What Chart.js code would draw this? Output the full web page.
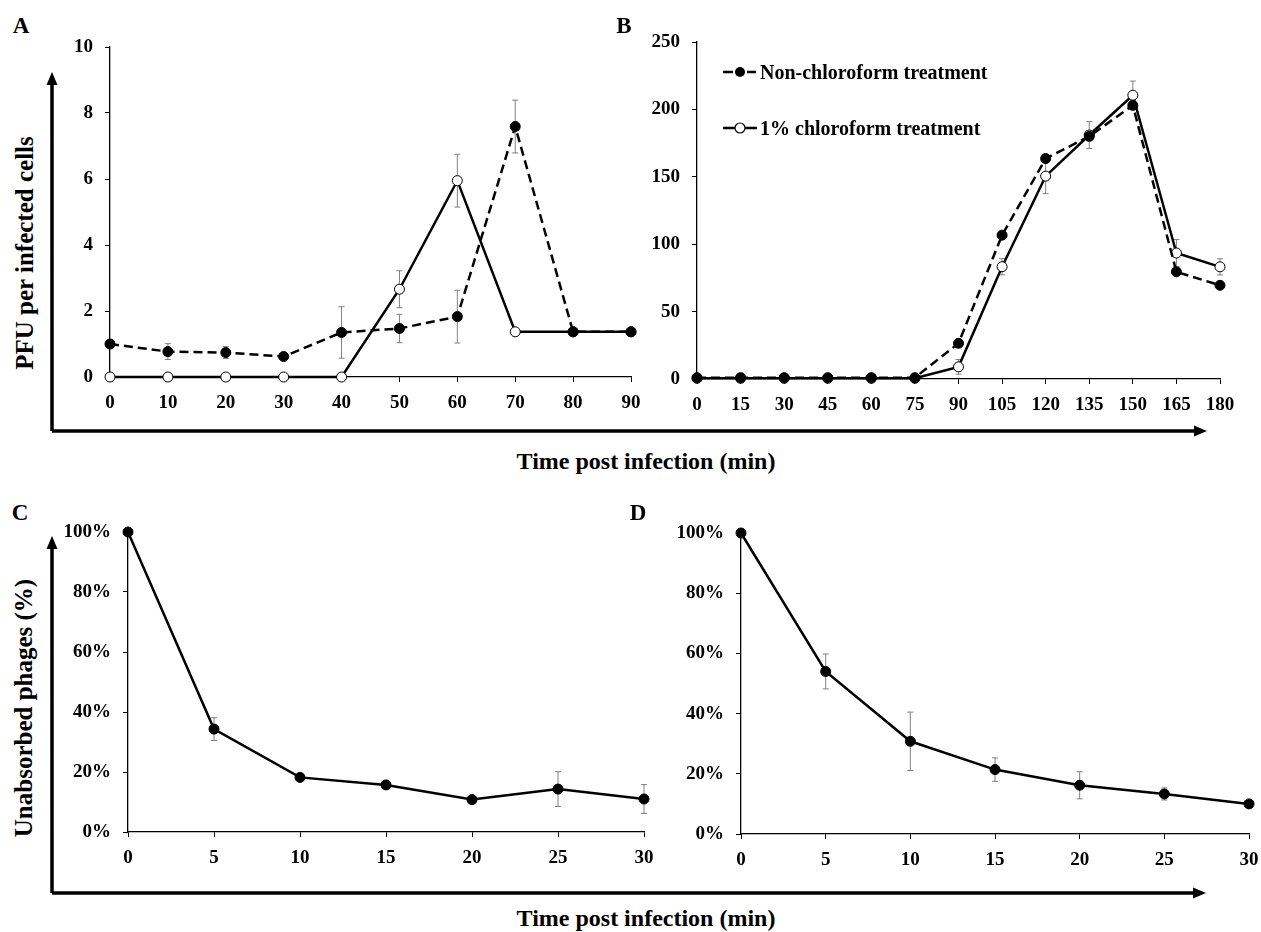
<!DOCTYPE html>
<html>
<head>
<meta charset="utf-8">
<script src="https://cdn.jsdelivr.net/npm/chart.js@4.4.1/dist/chart.umd.min.js"></script>
<style>
  body { margin: 0; background: #fff; width: 1261px; height: 932px; position: relative; overflow: hidden;
         font-family: "Liberation Serif", "Times New Roman", serif; font-weight: bold; color: #000; }
  canvas { position: absolute; }
  .t { position: absolute; white-space: nowrap; line-height: 1; transform: translate(-50%, -50%); }
  .letter { font-size: 23px; }
  .title { font-size: 24px; }
  .ytitle { font-size: 25px; }
  .rot { transform: translate(-50%, -50%) rotate(-90deg); }
  .leg { position: absolute; white-space: nowrap; line-height: 1; font-size: 20px; transform: translateY(-50%); }
</style>
</head>
<body>
<svg width="1261" height="932" style="position:absolute;left:0;top:0">
  <!-- big axis arrows, top row -->
  <path d="M52 431 V82 M52 431 H1196" stroke="#000" stroke-width="3.5" fill="none"/>
  <polygon points="52,72 46.5,85 57.5,85" fill="#000"/>
  <polygon points="1207,431 1194,425.5 1194,436.5" fill="#000"/>
  <!-- bottom row -->
  <path d="M52 893 V546 M52 893 H1195" stroke="#000" stroke-width="3.5" fill="none"/>
  <polygon points="52,536 46.5,549 57.5,549" fill="#000"/>
  <polygon points="1206,893 1193,887.5 1193,898.5" fill="#000"/>
  <!-- legend samples for panel B -->
  <path d="M723 72 H733 M747 72 H756" stroke="#000" stroke-width="2.5"/>
  <circle cx="740" cy="72" r="5" fill="#000"/>
  <line x1="723" y1="128" x2="757" y2="128" stroke="#000" stroke-width="2.5"/>
  <circle cx="740" cy="128" r="5" fill="#fff" stroke="#000" stroke-width="1.2"/>
</svg>

<canvas id="chartA"></canvas>
<canvas id="chartB"></canvas>
<canvas id="chartC"></canvas>
<canvas id="chartD"></canvas>

<div class="t letter" style="left:21px;top:25px">A</div>
<div class="t letter" style="left:624px;top:25px">B</div>
<div class="t letter" style="left:20px;top:512px">C</div>
<div class="t letter" style="left:638px;top:512px">D</div>
<div class="t ytitle rot" style="left:24px;top:253px">PFU per infected cells</div>
<div class="t ytitle rot" style="left:23px;top:708px">Unabsorbed phages (%)</div>
<div class="t title" style="left:646px;top:461px">Time post infection (min)</div>
<div class="t title" style="left:646px;top:918px">Time post infection (min)</div>
<div class="leg" style="left:760px;top:72px">Non-chloroform treatment</div>
<div class="leg" style="left:760px;top:128px">1% chloroform treatment</div>

<script>
// Panel A: one-step growth, 0-90 min
const timeA = [0, 10, 20, 30, 40, 50, 60, 70, 80, 90];
const nonChloroA = [1.0, 0.77, 0.74, 0.62, 1.35, 1.47, 1.83, 7.59, 1.37, 1.37];
const nonChloroAErr = [0, 0.24, 0.18, 0, 0.78, 0.43, 0.8, 0.8, 0, 0];
const chloroA = [0, 0, 0, 0, 0, 2.66, 5.95, 1.37, 1.37, 1.37];
const chloroAErr = [0, 0, 0, 0, 0, 0.56, 0.8, 0, 0, 0];

// Panel B: one-step growth, 0-180 min
const timeB = [0, 15, 30, 45, 60, 75, 90, 105, 120, 135, 150, 165, 180];
const nonChloroB = [1, 1, 1, 1, 1, 1, 26.5, 106.7, 163.5, 180, 203, 79.5, 69.5];
const chloroB = [0.5, 0.5, 0.5, 0.5, 0.5, 0.5, 9, 83.3, 150.5, 181, 210.5, 93.5, 83.2];
const chloroBErr = [0, 0, 0, 0, 0, 0, 5.5, 6, 13, 10, 10.5, 10, 6];

// Panels C and D: adsorption, 0-30 min
const timeCD = [0, 5, 10, 15, 20, 25, 30];
const unabsorbedC = [100, 34.3, 18.2, 15.7, 10.8, 14.3, 11];
const unabsorbedCErr = [0, 3.8, 0, 0, 0, 5.8, 4.8];
const unabsorbedD = [100, 54, 30.8, 21.4, 16.2, 13.3, 10];
const unabsorbedDErr = [0, 5.8, 9.7, 3.9, 4.5, 2, 0];

const pts = (xs, ys) => xs.map((x, i) => ({ x: x, y: ys[i] }));

// gray error bars with small caps, drawn under the lines
const errorBars = {
  id: "errorBars",
  beforeDatasetsDraw(chart) {
    const { ctx, scales } = chart;
    ctx.save();
    ctx.strokeStyle = "#808080";
    ctx.lineWidth = 1;
    chart.data.datasets.forEach((ds) => {
      if (!ds.errors) return;
      ds.data.forEach((p, j) => {
        const e = ds.errors[j];
        if (!e) return;
        const px = scales.x.getPixelForValue(p.x);
        const top = scales.y.getPixelForValue(p.y + e);
        const bot = scales.y.getPixelForValue(p.y - e);
        ctx.beginPath();
        ctx.moveTo(px, top); ctx.lineTo(px, bot);
        ctx.moveTo(px - 3, top); ctx.lineTo(px + 3, top);
        ctx.moveTo(px - 3, bot); ctx.lineTo(px + 3, bot);
        ctx.stroke();
      });
    });
    ctx.restore();
  },
};

const tickFont = { family: "Liberation Serif", weight: "bold", size: 19 };

function filled(data, errors, dashed) {
  return {
    data, errors,
    borderColor: "#000", borderWidth: 2.5, borderDash: dashed ? [9, 5] : [],
    pointRadius: 5, pointBackgroundColor: "#000", pointBorderColor: "#000", pointBorderWidth: 1,
    tension: 0, clip: false,
  };
}
function open(data, errors) {
  return {
    data, errors,
    borderColor: "#000", borderWidth: 2.5,
    pointRadius: 5, pointBackgroundColor: "#fff", pointBorderColor: "#000", pointBorderWidth: 1,
    tension: 0, clip: false,
  };
}

// area = pixel box of the plot area on the page
// padT must cover half a tick label plus tick padding, or Chart.js pushes the top down
function panel(id, area, xMax, xStep, yMax, yStep, datasets, yLabel) {
  const padL = 64, padT = 26, padR = 30, padB = 46;
  const c = document.getElementById(id);
  c.width = area.r - area.l + padL + padR;
  c.height = area.b - area.t + padT + padB;
  c.style.left = area.l - padL + "px";
  c.style.top = area.t - padT + "px";
  new Chart(c, {
    type: "line",
    data: { datasets },
    plugins: [errorBars],
    options: {
      responsive: false,
      animation: false,
      layout: { padding: { top: padT, right: padR, left: 0, bottom: 0 } },
      plugins: { legend: { display: false }, tooltip: { enabled: false } },
      scales: {
        x: {
          type: "linear", min: 0, max: xMax,
          afterFit: (s) => { s.height = padB; },
          grid: { drawOnChartArea: false, drawTicks: true, tickLength: 5, color: "#000" },
          border: { color: "#000", width: 1.3 },
          ticks: { stepSize: xStep, font: tickFont, color: "#000", padding: 10, maxRotation: 0, autoSkip: false },
        },
        y: {
          min: 0, max: yMax,
          afterFit: (s) => { s.width = padL; },
          grid: { drawOnChartArea: false, drawTicks: true, tickLength: 5, color: "#000" },
          border: { color: "#000", width: 1.3 },
          ticks: { stepSize: yStep, font: tickFont, color: "#000", padding: 12, callback: yLabel },
        },
      },
    },
  });
}

const plain = (v) => v;
const pct = (v) => v + "%";

panel("chartA", { l: 110, r: 631, t: 47, b: 377 }, 90, 10, 10, 2, [
  filled(pts(timeA, nonChloroA), nonChloroAErr, true),
  open(pts(timeA, chloroA), chloroAErr),
], plain);

panel("chartB", { l: 697, r: 1220, t: 42, b: 379 }, 180, 15, 250, 50, [
  filled(pts(timeB, nonChloroB), null, true),
  open(pts(timeB, chloroB), chloroBErr),
], plain);

panel("chartC", { l: 128, r: 644, t: 532, b: 832 }, 30, 5, 100, 20, [
  filled(pts(timeCD, unabsorbedC), unabsorbedCErr, false),
], pct);

panel("chartD", { l: 741, r: 1249, t: 533, b: 834 }, 30, 5, 100, 20, [
  filled(pts(timeCD, unabsorbedD), unabsorbedDErr, false),
], pct);
</script>
</body>
</html>
